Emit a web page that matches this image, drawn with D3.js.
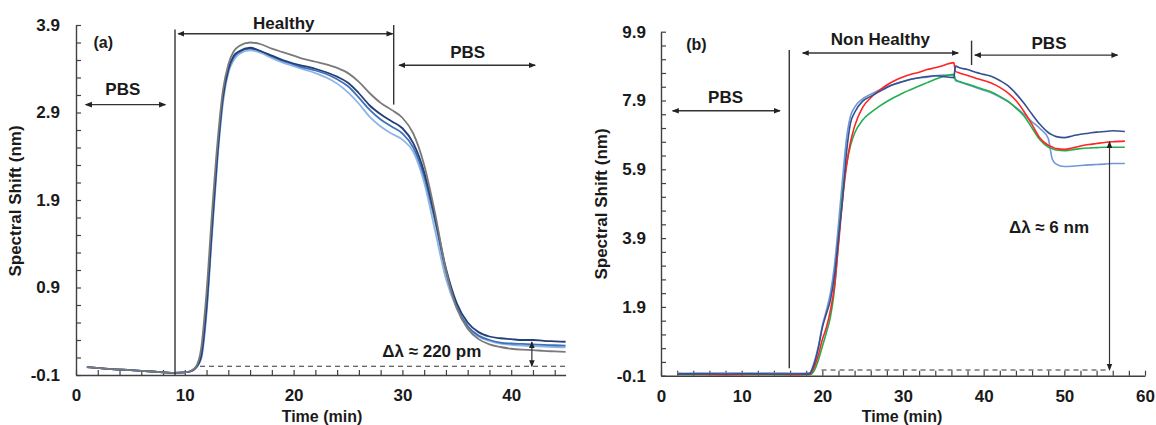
<!DOCTYPE html>
<html><head><meta charset="utf-8">
<script src="https://cdn.jsdelivr.net/npm/d3@7"></script>
<style>
html,body{margin:0;padding:0;background:#fff;}
text{font-family:"Liberation Sans",Arial,sans-serif;font-weight:bold;fill:#1a1a1a;}
</style></head>
<body>
<svg id="chart" width="1156" height="425"></svg>
<script>
// ---------- Panel (a) data ----------
const timeA = [1,3,5,7,9,10,10.5,11,11.5,12,12.5,13,13.5,14,14.5,15,16,17,18,19,20,21,22,23,24,25,26,27,28,29,30,31,32,33,34,35,36,37,38,39,40,41,42,43,44,45];
const grayA = [-0.01,-0.03,-0.045,-0.06,-0.075,-0.07,-0.055,-0.01,0.2,0.85,1.75,2.55,3.15,3.45,3.6,3.66,3.7,3.68,3.63,3.59,3.55,3.51,3.48,3.45,3.41,3.35,3.25,3.12,3.01,2.93,2.84,2.66,2.3,1.75,1.1,0.66,0.43,0.31,0.25,0.22,0.2,0.19,0.185,0.175,0.17,0.165];
const navyA = [-0.01,-0.03,-0.045,-0.06,-0.075,-0.07,-0.06,-0.02,0.12,0.7,1.6,2.45,3.08,3.4,3.55,3.6,3.64,3.6,3.55,3.5,3.46,3.43,3.4,3.36,3.31,3.24,3.12,2.98,2.88,2.8,2.72,2.55,2.22,1.7,1.12,0.72,0.5,0.39,0.34,0.32,0.31,0.3,0.3,0.29,0.285,0.28];
const midA  = [-0.01,-0.03,-0.045,-0.06,-0.075,-0.07,-0.06,-0.02,0.1,0.65,1.55,2.4,3.05,3.38,3.53,3.59,3.63,3.6,3.54,3.49,3.45,3.41,3.38,3.34,3.28,3.2,3.07,2.93,2.82,2.74,2.66,2.5,2.17,1.66,1.08,0.68,0.46,0.35,0.3,0.27,0.26,0.255,0.25,0.245,0.24,0.235];
const lightA= [-0.01,-0.03,-0.045,-0.06,-0.075,-0.07,-0.06,-0.02,0.08,0.6,1.5,2.35,3.0,3.35,3.5,3.57,3.61,3.58,3.52,3.47,3.43,3.39,3.35,3.3,3.23,3.13,3.0,2.85,2.74,2.66,2.59,2.45,2.1,1.55,1.0,0.66,0.45,0.34,0.29,0.26,0.245,0.235,0.23,0.225,0.22,0.215];
const xTickLabelsA = [0,10,20,30,40];
const yTickLabelsA = ["-0.1","0.9","1.9","2.9","3.9"];

// ---------- Panel (b) data ----------
const timeB = [2,5,8,11,14,17,18.4,19,19.5,20,20.5,21,21.5,22,22.5,23,23.5,24,25,26,27,28,29,30,31,32,33,34,35,36.3,36.5,37,38,39,40,41,42,43,44,45,46,47,48,48.5,49,50,51,52,53,54,55,56,57.5];
const navyB = [-0.05,-0.04,-0.05,-0.04,-0.05,-0.05,-0.04,0.25,0.7,1.3,1.7,2.1,2.8,3.9,5.0,6.4,7.25,7.55,7.88,8.02,8.15,8.28,8.38,8.45,8.52,8.56,8.6,8.62,8.6,8.56,8.9,8.85,8.8,8.72,8.66,8.6,8.48,8.33,8.1,7.82,7.5,7.2,6.97,6.9,6.85,6.82,6.87,6.92,6.95,6.98,7.0,7.02,7.0];
const lightB= [-0.02,-0.03,-0.02,-0.03,-0.02,-0.03,-0.02,0.3,0.75,1.35,1.8,2.3,3.1,4.3,5.6,6.8,7.45,7.7,7.95,8.08,8.2,8.3,8.38,8.45,8.52,8.56,8.58,8.62,8.64,8.62,8.48,8.44,8.36,8.28,8.2,8.12,8.0,7.87,7.7,7.5,7.28,7.08,6.8,6.2,6.05,5.98,5.99,6.01,6.03,6.04,6.05,6.07,6.07];
const redB  = [-0.06,-0.06,-0.07,-0.06,-0.06,-0.07,-0.06,0.15,0.5,0.95,1.3,1.8,2.5,3.7,5.0,6.0,6.7,7.15,7.7,7.98,8.18,8.35,8.48,8.58,8.66,8.72,8.8,8.85,8.92,9.0,8.75,8.7,8.63,8.55,8.48,8.4,8.28,8.12,7.9,7.58,7.2,6.8,6.6,6.55,6.5,6.48,6.52,6.58,6.62,6.65,6.68,6.7,6.72];
const greenB= [-0.07,-0.07,-0.07,-0.07,-0.07,-0.07,-0.07,0.05,0.35,0.75,1.15,1.6,2.4,3.8,5.2,6.05,6.6,6.95,7.33,7.55,7.72,7.87,8.0,8.12,8.22,8.32,8.42,8.52,8.6,8.66,8.52,8.45,8.38,8.3,8.22,8.14,8.02,7.88,7.68,7.45,7.1,6.75,6.55,6.5,6.46,6.44,6.47,6.5,6.52,6.53,6.54,6.54,6.54];
const xTickLabelsB = [0,10,20,30,40,50,60];
const yTickLabelsB = ["-0.1","1.9","3.9","5.9","7.9","9.9"];

const svg = d3.select("#chart");
const AX = "#404040";

const defs = svg.append("defs");
defs.append("marker").attr("id","ah").attr("viewBox","0 -4 8 8")
  .attr("refX",7).attr("refY",0).attr("markerWidth",7).attr("markerHeight",7)
  .attr("markerUnits","userSpaceOnUse").attr("orient","auto-start-reverse")
  .append("path").attr("d","M0,-3.2L8,0L0,3.2Z").attr("fill","#222");

function panel(cfg){
  const x = d3.scaleLinear().domain(cfg.xDomain).range(cfg.xRange);
  const y = d3.scaleLinear().domain(cfg.yDomain).range(cfg.yRange);
  const g = svg.append("g");

  const yLab = new Set(cfg.yLabels.map(Number).map(v=>v.toFixed(1)));
  const yt = d3.range(0, Math.round((cfg.yDomain[1]-cfg.yDomain[0])/cfg.yMinor)+1).map(i=>+(cfg.yDomain[0]+i*cfg.yMinor).toFixed(2));
  const ya = g.append("g").attr("transform",`translate(${cfg.xRange[0]},0)`)
    .call(d3.axisLeft(y).tickValues(yt).tickSizeInner(-5).tickSizeOuter(0).tickPadding(cfg.yPad)
      .tickFormat(v=>{const s=v.toFixed(1); return yLab.has(s)? s.replace("\u2212","-") : "";}));
  const xt = d3.range(cfg.xDomain[0], cfg.xDomain[1]+0.001, 2);
  const xa = g.append("g").attr("transform",`translate(0,${cfg.yRange[0]})`)
    .call(d3.axisBottom(x).tickValues(xt).tickSizeInner(-5).tickSizeOuter(0).tickPadding(14)
      .tickFormat(v=> cfg.xLabels.includes(v)? String(v) : ""));
  [ya,xa].forEach(a=>{
    a.selectAll("path.domain").attr("stroke",AX).attr("stroke-width",1.4);
    a.selectAll(".tick line").attr("stroke",AX).attr("stroke-width",1.2);
    a.selectAll("text").attr("font-size",17).attr("fill","#1a1a1a")
      .attr("font-family","'Liberation Sans',Arial,sans-serif").attr("font-weight","bold");
  });

  g.append("text").attr("transform",`translate(${cfg.yTitleX},${cfg.yTitleY}) rotate(-90)`)
    .attr("text-anchor","middle").attr("font-size",17).text("Spectral Shift (nm)");
  g.append("text").attr("x",cfg.xTitleX).attr("y",422)
    .attr("text-anchor","middle").attr("font-size",16).text("Time (min)");

  const line = d3.line().x(d=>x(d[0])).y(d=>y(d[1])).curve(d3.curveMonotoneX);
  cfg.series.forEach(s=>{
    g.append("path").datum(cfg.time.map((t,i)=>[t,s.values[i]]))
      .attr("fill","none").attr("stroke",s.color).attr("stroke-width",s.w||1.7)
      .attr("stroke-linejoin","round").attr("d",line);
  });

  const ln = (x1,y1,x2,y2,opt={})=>{
    const p = g.append("line").attr("x1",x(x1)).attr("y1",y(y1)).attr("x2",x(x2)).attr("y2",y(y2))
      .attr("stroke",opt.color||"#333").attr("stroke-width",opt.w||1.4);
    if(opt.dash) p.attr("stroke-dasharray",opt.dash);
    if(opt.start) p.attr("marker-start","url(#ah)");
    if(opt.end) p.attr("marker-end","url(#ah)");
    return p;
  };
  const tx = (t,v,str,size)=> g.append("text").attr("x",x(t)).attr("y",y(v))
      .attr("text-anchor","middle").attr("font-size",size||17).text(str);
  cfg.annot(ln,tx,x,y);
}

// Panel (a)
panel({
  xDomain:[0,45], xRange:[76,565.6], yDomain:[-0.1,3.9], yRange:[375,25], yMinor:0.2,
  yLabels:yTickLabelsA, xLabels:xTickLabelsA, yPad:16, yTitleX:21, yTitleY:201, xTitleX:322,
  time:timeA,
  series:[
    {values:lightA,color:"#8DB5E6",w:1.8},
    {values:midA,color:"#3F72B8",w:1.8},
    {values:navyA,color:"#233F78",w:1.8},
    {values:grayA,color:"#7A7A7A",w:1.8}
  ],
  annot:(ln,tx,x,y)=>{
    tx(2.5,3.9-(48-25)/87.5,"(a)",16);
    ln(0.9,2.99,8.2,2.99,{start:true,end:true});
    tx(4.3,3.9-(95-25)/87.5,"PBS");
    ln(9.1,3.85,9.1,-0.1,{});
    ln(9.4,3.80,29.1,3.80,{start:true,end:true});
    tx(19.1,3.9-(29-25)/87.5,"Healthy");
    ln(29.2,3.9,29.2,2.99,{});
    ln(29.7,3.44,42.2,3.44,{start:true,end:true});
    tx(36.0,3.9-(58-25)/87.5,"PBS");
    ln(11.4,0,45,0,{dash:"5,4",w:1.2});
    ln(41.9,0.277,41.9,0.0,{start:true,end:true,w:1.2});
    tx(32.7,3.9-(357-25)/87.5,"\u0394\u03bb \u2248 220 pm");
  }
});

// Panel (b)
panel({
  xDomain:[0,60], xRange:[661,1145], yDomain:[-0.1,9.9], yRange:[375.7,31.7], yMinor:0.4,
  yLabels:yTickLabelsB, xLabels:xTickLabelsB, yPad:15, yTitleX:607, yTitleY:204, xTitleX:902,
  time:timeB,
  series:[
    {values:lightB,color:"#7197D8",w:1.6},
    {values:greenB,color:"#22B04E",w:1.6},
    {values:redB,color:"#FF2424",w:1.6},
    {values:navyB,color:"#34508E",w:1.6}
  ],
  annot:(ln,tx,x,y)=>{
    const v = py => (375.7-py)/34.4-0.1;
    tx(4.4,v(50),"(b)",16);
    ln(1.45,7.6,14.75,7.6,{start:true,end:true});
    tx(8.0,v(103),"PBS");
    ln(15.9,9.37,15.9,0.12,{});
    ln(17.56,9.28,36.84,9.28,{start:true,end:true});
    tx(27.2,v(45),"Non Healthy");
    ln(38.5,9.64,38.5,8.93,{});
    ln(38.9,9.22,56.6,9.22,{start:true,end:true});
    tx(48.1,v(49),"PBS");
    ln(19.9,0.066,55.6,0.066,{dash:"5,4",w:1.2});
    ln(55.6,6.7,55.6,0.066,{start:true,end:true,w:1.2});
    tx(48.1,v(233),"\u0394\u03bb \u2248 6 nm");
  }
});
</script>
</body></html>
